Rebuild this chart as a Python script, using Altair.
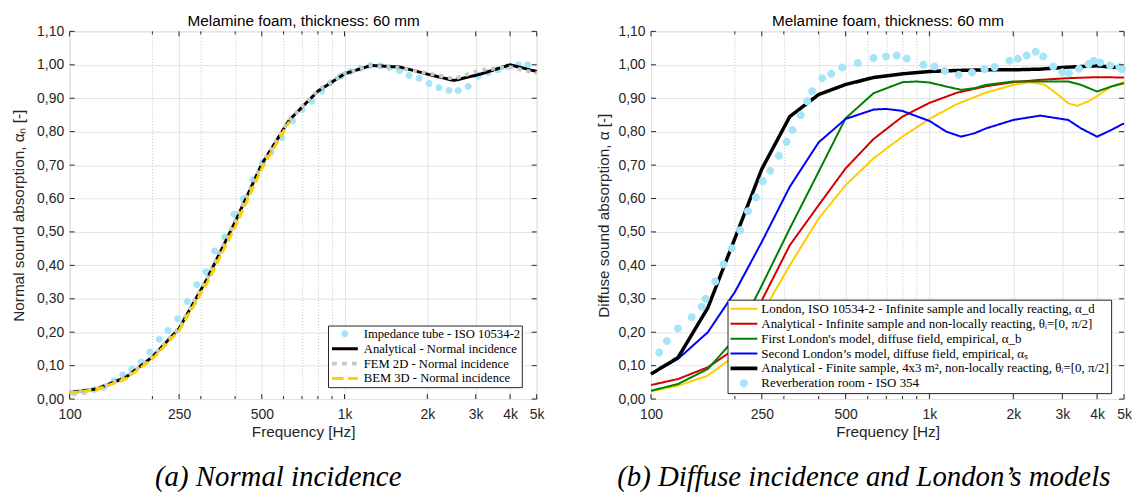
import altair as alt
import pandas as pd

FONT = "Liberation Sans"
SERIF = "Liberation Serif"
TXT = "#262626"

# ---------------- axes -----------------
BANDS = [100, 125, 160, 200, 250, 315, 400, 500, 630, 800, 1000, 1250, 1600,
         2000, 2500, 3150, 4000, 5000]
X_MAJOR = [100, 250, 500, 1000, 2000, 3000, 4000, 5000]
X_MAJOR_LABELS = ["100", "250", "500", "1k", "2k", "3k", "4k", "5k"]
X_MINOR = [200, 300, 400, 600, 700, 800, 900]
Y_TICKS = [0.0, 0.1, 0.2, 0.3, 0.4, 0.5, 0.6, 0.7, 0.8, 0.9, 1.0, 1.1]

# ---------------- panel (a) -----------------
TUBE_F = [104, 113, 123, 133, 145, 156, 168, 182, 196, 212, 228, 247, 268, 290,
          313, 337, 366, 396, 429, 464, 504, 540, 592, 647, 700, 760, 826, 890,
          968, 1052, 1143, 1242, 1350, 1459, 1585, 1718, 1867, 2030, 2206, 2398,
          2591, 2816, 3060, 3325, 3614, 3927, 4293, 4639]
TUBE_A = [0.018, 0.022, 0.028, 0.035, 0.055, 0.072, 0.090, 0.111, 0.141, 0.179,
          0.205, 0.240, 0.292, 0.342, 0.381, 0.443, 0.485, 0.553, 0.599, 0.656,
          0.708, 0.738, 0.782, 0.832, 0.866, 0.891, 0.921, 0.946, 0.966, 0.980,
          0.990, 0.998, 0.997, 0.992, 0.982, 0.968, 0.960, 0.944, 0.931, 0.923,
          0.923, 0.935, 0.966, 0.977, 0.985, 0.995, 1.000, 1.000]
ANA_NORMAL = [0.020, 0.030, 0.065, 0.126, 0.211, 0.357, 0.530, 0.703, 0.835,
              0.921, 0.973, 0.998, 0.993, 0.972, 0.953, 0.973, 1.000, 0.980]
FEM_2D = [0.020, 0.030, 0.065, 0.126, 0.213, 0.358, 0.532, 0.703, 0.836, 0.923,
          0.975, 0.997, 0.990, 0.975, 0.958, 0.985, 0.993, 0.975]
BEM_F = [100, 125, 160, 200, 250, 315, 400, 500, 630]
BEM_3D = [0.018, 0.028, 0.060, 0.120, 0.205, 0.345, 0.515, 0.690, 0.830]

LEFT_SERIES = ["Impedance tube - ISO 10534-2", "Analytical - Normal incidence",
               "FEM 2D - Normal incidence", "BEM 3D - Normal incidence"]
LEFT_COLORS = ["#a6e5f9", "#000000", "#c8c8c8", "#ffd000"]

# ---------------- panel (b) -----------------
ANA_FINITE = [0.075, 0.124, 0.273, 0.480, 0.688, 0.845, 0.911, 0.941, 0.962,
              0.973, 0.980, 0.983, 0.985, 0.985, 0.987, 0.993, 0.997, 0.990]
ANA_INF = [0.042, 0.060, 0.095, 0.150, 0.295, 0.460, 0.580, 0.690, 0.778, 0.845,
           0.886, 0.916, 0.936, 0.948, 0.955, 0.960, 0.963, 0.962]
LOND_D_F = [100, 125, 160, 200, 250, 315, 400, 500, 630, 800, 1000, 1250, 1600,
            2000, 2300, 2600, 2900, 3150, 3400, 3700, 4000, 4500, 5000]
LOND_D = [0.023, 0.040, 0.070, 0.130, 0.255, 0.400, 0.540, 0.640, 0.720, 0.785,
          0.838, 0.882, 0.917, 0.940, 0.948, 0.940, 0.910, 0.885, 0.877, 0.890,
          0.906, 0.935, 0.948]
LOND_B_F = [100, 125, 160, 200, 250, 315, 400, 500, 630, 800, 900, 1000, 1150,
            1300, 1450, 1600, 2000, 2500, 3150, 3500, 4000, 4500, 5000]
LOND_B = [0.025, 0.045, 0.090, 0.180, 0.340, 0.510, 0.680, 0.840, 0.915, 0.948,
          0.950, 0.947, 0.935, 0.925, 0.930, 0.940, 0.950, 0.950, 0.950, 0.940,
          0.920, 0.935, 0.945]
LOND_S_F = [100, 125, 160, 200, 250, 315, 400, 500, 630, 700, 800, 1000, 1150,
            1300, 1450, 1600, 2000, 2500, 3150, 3500, 4000, 4500, 5000]
LOND_S = [0.075, 0.120, 0.200, 0.320, 0.470, 0.635, 0.768, 0.838, 0.866, 0.868,
          0.862, 0.832, 0.800, 0.785, 0.795, 0.810, 0.835, 0.848, 0.835, 0.810,
          0.785, 0.805, 0.825]
ROOM_F = [107, 114, 125, 140, 152, 157, 170, 182, 195, 209, 223, 238, 252, 268,
          288, 307, 322, 345, 364, 379, 412, 444, 486, 553, 630, 698, 763, 829,
          951, 1043, 1136, 1275, 1422, 1578, 1714, 1939, 2076, 2235, 2406, 2563,
          2783, 3004, 3174, 3446, 3729, 3886, 4105, 4457, 4812, 4920]
ROOM_A = [0.139, 0.174, 0.211, 0.245, 0.276, 0.300, 0.352, 0.403, 0.451, 0.505,
          0.562, 0.604, 0.652, 0.683, 0.728, 0.770, 0.805, 0.849, 0.891, 0.921,
          0.960, 0.973, 0.992, 1.005, 1.020, 1.025, 1.028, 1.019, 1.000, 0.995,
          0.982, 0.970, 0.977, 0.987, 0.993, 1.012, 1.018, 1.028, 1.039, 1.025,
          0.995, 0.978, 0.975, 0.988, 1.002, 1.012, 1.007, 0.998, 0.993, 0.987]

RIGHT_SERIES = [
    "London, ISO 10534-2 - Infinite sample and locally reacting, α_d",
    "Analytical - Infinite sample and non-locally reacting, θᵢ=[0, π/2]",
    "First London's model, diffuse field, empirical, α_b",
    "Second London’s model, diffuse field, empirical, αₛ",
    "Analytical - Finite sample, 4x3 m², non-locally reacting, θᵢ=[0, π/2]",
    "Reverberation room - ISO 354",
]
RIGHT_COLORS = ["#ffcc00", "#d40000", "#008000", "#0000ff", "#000000", "#a6e5f9"]


def frame(f, a, name):
    return pd.DataFrame({"f": f, "a": a, "series": name})


CIRCLE = "M{r} 0 A{r} {r} 0 1 1 -{r} 0 A{r} {r} 0 1 1 {r} 0 Z"


def bar(h):
    return f"M-1 -{h} H1 V{h} H-1 Z"


def rects(segs, h):
    return " ".join(f"M{a} -{h} H{b} V{h} H{a} Z" for a, b in segs)


def label_expr():
    e = "''"
    for v, lab in zip(reversed(X_MAJOR), reversed(X_MAJOR_LABELS)):
        e = f"datum.value == {v} ? '{lab}' : ({e})"
    return e


def panel(W, H, layers_spec, series, colors, shapes, ylabel, caption,
          legend_xy, sym_size, pad, clip_h, sym_off, lab_off, ytitle_pad, leg_fs):
    xscale = alt.Scale(type="log", domain=[100, 5000], nice=False)
    yscale = alt.Scale(domain=[0, 1.1], nice=False, zero=False)
    major_test = "indexof(" + str(X_MAJOR) + ", datum.value) >= 0"
    x_axis = alt.Axis(
        values=sorted(X_MAJOR + X_MINOR), labelExpr=label_expr(), orient="bottom",
        grid=True,
        gridColor={"condition": {"test": major_test, "value": "#e3e3e3"}, "value": "#c4c4c4"},
        gridDash={"condition": {"test": major_test, "value": []}, "value": [1, 2]},
        gridWidth=1, ticks=True, tickSize=0, tickWidth=0, domain=False,
        labelFont=FONT, labelFontSize=14, labelColor=TXT, labelPadding=9,
        labelOverlap=False, labelFlush=False,
        title="Frequency [Hz]", titleFont=FONT, titleFontSize=15.4, titleFontWeight="normal",
        titleColor=TXT, titlePadding=3)
    y_axis = alt.Axis(
        values=Y_TICKS, labelExpr="replace(format(datum.value, '.2f'), '.', ',')",
        orient="left",
        grid=True, gridColor="#e3e3e3", gridWidth=1, ticks=True, tickSize=0, tickWidth=0,
        domain=False, labelFont=FONT, labelFontSize=14, labelColor=TXT, labelPadding=6,
        labelOverlap=False, labelFlush=False,
        title=ylabel, titleFont=FONT, titleFontSize=15.4, titleFontWeight="normal",
        titleColor=TXT, titlePadding=ytitle_pad)

    legend = alt.Legend(
        title=None, orient="none", legendX=legend_xy[0], legendY=legend_xy[1],
        fillColor="white", strokeColor=TXT, padding=pad, cornerRadius=0,
        labelFont=SERIF, labelFontSize=leg_fs, labelColor="black", labelLimit=0,
        clipHeight=clip_h, rowPadding=0, symbolSize=sym_size, symbolStrokeWidth=0,
        symbolOffset=sym_off, labelOffset=lab_off, symbolOpacity=1)
    color = alt.Color("series:N", scale=alt.Scale(domain=series, range=colors),
                      legend=legend)
    shape = alt.Shape("series:N", scale=alt.Scale(domain=series, range=shapes),
                      legend=legend)

    layers = []
    first = True
    for kind, df, style in layers_spec:
        base = alt.Chart(df)
        if kind == "point":
            m = base.mark_point(filled=True, opacity=1, size=sym_size, strokeWidth=0)
            extra = dict(color=color, shape=shape)
        else:
            m = base.mark_line(strokeWidth=style["w"], strokeDash=style.get("dash", [1, 0]),
                               strokeCap="butt", interpolate="linear",
                               color=style["color"])
            extra = {}
        enc = dict(
            x=alt.X("f:Q", scale=xscale, axis=x_axis if first else None),
            y=alt.Y("a:Q", scale=yscale, axis=y_axis if first else None),
            **extra,
        )
        layers.append(m.encode(**enc))
        first = False

    # inward tick marks
    tx_major = pd.DataFrame({"f": X_MAJOR})
    tx_minor = pd.DataFrame({"f": X_MINOR})
    ty = pd.DataFrame({"a": Y_TICKS})
    top_axis = alt.Axis(orient="top", labels=False, ticks=False, domain=False, grid=False,
                        title="Melamine foam, thickness: 60 mm", titleFont=FONT,
                        titleFontSize=15.4, titleFontWeight="normal", titleColor="black",
                        titlePadding=3)
    for dfx, ln, ax in ((tx_major, 5, top_axis), (tx_minor, 3, None)):
        layers.append(alt.Chart(dfx).mark_rule(color=TXT, strokeWidth=1).encode(
            x=alt.X("f:Q", scale=xscale, axis=ax), y=alt.value(H), y2=alt.value(H - ln)))
        layers.append(alt.Chart(dfx).mark_rule(color=TXT, strokeWidth=1).encode(
            x=alt.X("f:Q", scale=xscale, axis=None), y=alt.value(0), y2=alt.value(ln)))
    ys = alt.Y("a:Q", scale=yscale, axis=None)
    layers.append(alt.Chart(ty).mark_rule(color=TXT, strokeWidth=1).encode(
        y=ys, x=alt.value(0), x2=alt.value(5)))
    layers.append(alt.Chart(ty).mark_rule(color=TXT, strokeWidth=1).encode(
        y=ys, x=alt.value(W - 5), x2=alt.value(W)))

    return alt.layer(*layers).resolve_axis(x="independent", y="independent").properties(
        width=W, height=H,
        title=alt.TitleParams(caption, orient="bottom", font=SERIF, fontStyle="italic",
                              fontSize=29, fontWeight="normal", color="black",
                              anchor="middle", frame="bounds", offset=23))


# panel a
la = [
    ("point", frame(TUBE_F, TUBE_A, LEFT_SERIES[0]), {}),
    ("line", frame(BANDS, ANA_NORMAL, LEFT_SERIES[1]), {"w": 3, "color": LEFT_COLORS[1]}),
    ("line", frame(BANDS, FEM_2D, LEFT_SERIES[2]),
     {"w": 4, "dash": [4, 5], "color": LEFT_COLORS[2]}),
    ("line", frame(BEM_F, BEM_3D, LEFT_SERIES[3]),
     {"w": 3, "dash": [9, 4], "color": LEFT_COLORS[3]}),
]
left_shapes = [CIRCLE.format(r=0.27), bar(0.115),
               rects([(-1, -0.62), (-0.23, 0.15), (0.54, 0.92)], 0.15),
               rects([(-1, -0.1), (0.23, 1)], 0.115)]
chart_a = panel(470, 370, la, LEFT_SERIES, LEFT_COLORS, left_shapes,
                "Normal sound absorption, αₙ [-]", "(a) Normal incidence",
                (260, 296), 676, 1, 14.6, 3, 6, 10, 12.7)

# panel b
lb = [
    ("line", frame(LOND_D_F, LOND_D, RIGHT_SERIES[0]), {"w": 2, "color": RIGHT_COLORS[0]}),
    ("line", frame(BANDS, ANA_INF, RIGHT_SERIES[1]), {"w": 2, "color": RIGHT_COLORS[1]}),
    ("line", frame(LOND_B_F, LOND_B, RIGHT_SERIES[2]), {"w": 2, "color": RIGHT_COLORS[2]}),
    ("line", frame(LOND_S_F, LOND_S, RIGHT_SERIES[3]), {"w": 2, "color": RIGHT_COLORS[3]}),
    ("line", frame(BANDS, ANA_FINITE, RIGHT_SERIES[4]), {"w": 3.5, "color": RIGHT_COLORS[4]}),
    ("point", frame(ROOM_F, ROOM_A, RIGHT_SERIES[5]), {}),
]
right_shapes = [bar(0.075), bar(0.075), bar(0.075), bar(0.075), bar(0.14),
                CIRCLE.format(r=0.3)]
chart_b = panel(476, 370, lb, RIGHT_SERIES, RIGHT_COLORS, right_shapes,
                "Diffuse sound absorption, α [-]",
                "(b) Diffuse incidence and London’s models",
                (77, 270), 729, 2, 14.4, 1, 4, 7, 13)

chart = alt.hconcat(chart_a, chart_b, spacing=50) \
    .resolve_scale(color="independent", shape="independent") \
    .properties(padding={"left": 3, "top": 3, "right": 0, "bottom": 0}) \
    .configure_view(stroke=TXT, strokeWidth=1) \
    .configure(background="white")

chart.save("out.html", embed_options={"renderer": "svg", "actions": False})
